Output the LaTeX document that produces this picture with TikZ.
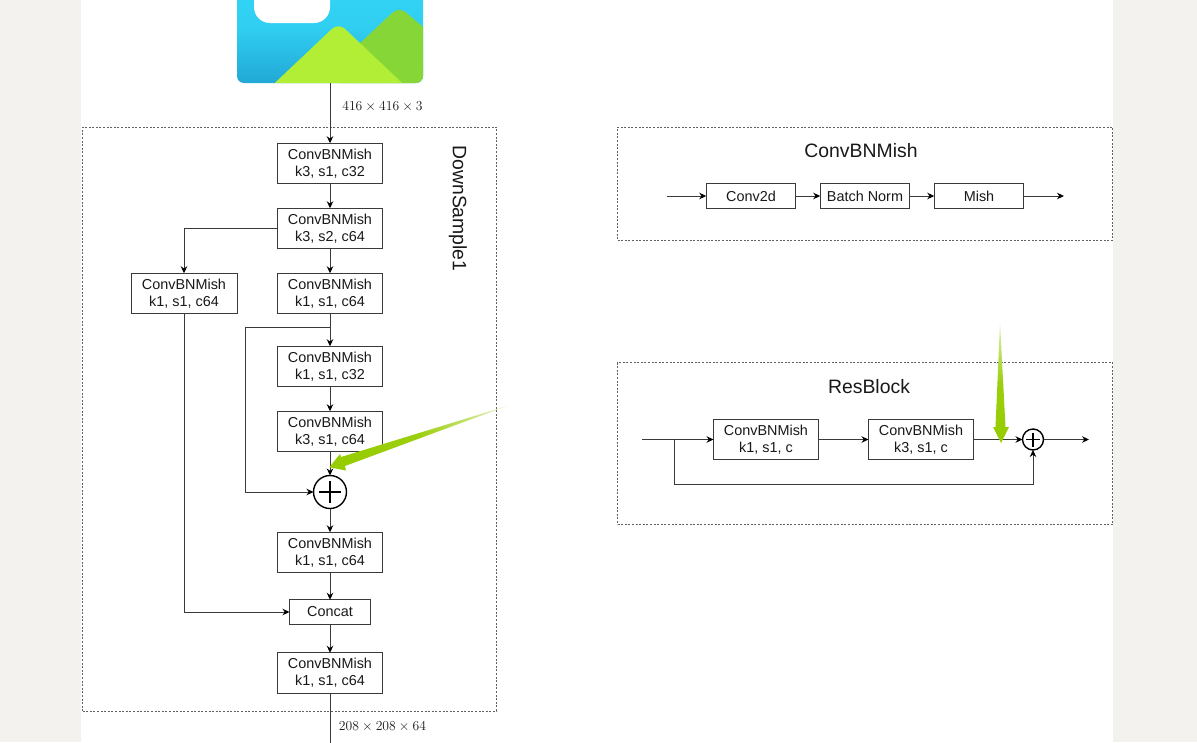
\documentclass[tikz,border=0pt]{standalone}
\usepackage{fontspec}
\setmainfont{Liberation Sans}
\usetikzlibrary{arrows.meta,calc}
\definecolor{pagebg}{HTML}{F3F2EE}
\definecolor{ln}{HTML}{3A3A3A}
\definecolor{arrowgreen}{HTML}{96CC00}
\definecolor{skytop}{HTML}{33D6F7}
\definecolor{skybot}{HTML}{22A8D6}
\definecolor{hilllight}{HTML}{B3EE36}
\definecolor{hilldark}{HTML}{87D637}
\tikzset{
  box/.style={draw=ln,fill=white,line width=.9pt,inner sep=0pt,outer sep=0pt,align=center,
    font=\fontsize{14.4}{17}\selectfont,text=black!90},
  cbm/.style={box,minimum width=105pt,minimum height=40.5pt},
  small/.style={box,minimum width=89.5pt,minimum height=24.5pt},
  frame/.style={draw=ln!80,dash pattern=on 2pt off 1.6pt,line width=.8pt,inner sep=0pt,outer sep=0pt},
  addc/.style={circle,draw=black,fill=white,line width=1.4pt,inner sep=0pt,outer sep=0pt},
  conn/.style={draw=ln,line width=.9pt,-{Stealth[length=7pt,width=6.5pt,color=black]}},
  plain/.style={draw=ln,line width=.9pt},
  title/.style={font=\fontsize{19.4}{24}\selectfont,text=black!90,inner sep=0pt},
  dim/.style={font=\fontsize{14.4}{15}\selectfont,text=black!90,inner sep=0pt,scale=.95},
}
\begin{document}
\begin{tikzpicture}[x=1pt,y=-1pt]
\useasboundingbox (0,0) rectangle (1197,742);
\begin{scope}
\clip (0,0) rectangle (1197,742);
\fill[pagebg] (0,0) rectangle (1197,742);
\fill[white] (80.5,0) rectangle (1113,742);
% frames
\node[frame,minimum width=414pt,minimum height=584pt] (fdown) at (289.5,419) {};
\node[frame,minimum width=495pt,minimum height=113pt] (fcbm) at (865,183.5) {};
\node[frame,minimum width=495pt,minimum height=162pt] (fres) at (865,443.5) {};
% picture
\node[minimum width=186pt,minimum height=113pt,inner sep=0pt,outer sep=0pt,rounded corners=7pt,
  top color=skytop,bottom color=skybot,middle color=skytop!85!skybot] (img) at (330,26.5) {};
\begin{scope}
\clip[rounded corners=7pt] (237,-30) rectangle (423,83);
\fill[white,rounded corners=16pt] (254,-40) rectangle (330,23);
\fill[hilldark,rounded corners=9pt] (340,62) -- (399,6.5) -- (450,50) -- (450,110) -- (340,110) -- cycle;
\fill[hilllight,rounded corners=9pt] (256.8,100) -- (338.5,22.7) -- (420,100) -- cycle;
\end{scope}
\coordinate (out) at (330,760);
% left column
\node[cbm] (c1) at (330,163.5) {ConvBNMish\\k3, s1, c32};
\node[cbm] (c2) at (330,228.5) {ConvBNMish\\k3, s2, c64};
\node[cbm,minimum width=106pt] (side) at (184,293.5) {ConvBNMish\\k1, s1, c64};
\node[cbm] (c3) at (330,293.5) {ConvBNMish\\k1, s1, c64};
\node[cbm] (c4) at (330,366.5) {ConvBNMish\\k1, s1, c32};
\node[cbm] (c5) at (330,431.5) {ConvBNMish\\k3, s1, c64};
\node[addc,minimum size=33pt] (add) at (330,492) {};
\draw[black,line width=1.2pt] ($(add)+(-11,0)$) -- ($(add)+(11,0)$) ($(add)+(0,-11)$) -- ($(add)+(0,11)$);
\node[cbm] (c6) at (330,552.5) {ConvBNMish\\k1, s1, c64};
\node[box,minimum width=81pt,minimum height=24.5pt] (cat) at (330,612) {Concat};
\node[cbm] (c7) at (330,673) {ConvBNMish\\k1, s1, c64};
\node[title,rotate=-90] (lbl) at (458,208.5) {DownSample1};
\node[dim] (d1) at (382.5,107) {$416\times416\times3$};
\node[dim] (d2) at (382.5,727) {$208\times208\times64$};
\draw[conn] (img.south) -- (c1.north);
\draw[conn] (c1) -- (c2);
\draw[conn] (c2) -- (c3);
\draw[conn] (c2.west) -| (side.north);
\draw[conn] (c3) -- (c4);
\draw[conn] (c4) -- (c5);
\draw[conn] (c5) -- (add);
\draw[conn] (add) -- (c6);
\draw[conn] (c6) -- (cat);
\draw[conn] (cat) -- (c7);
\draw[plain] (c7.south) -- (out);
\coordinate (br) at (330,327);
\coordinate (brl) at (245,327);
\draw[conn] (br) -- (brl) |- (add.west);
\draw[conn] (side.south) |- (cat.west);
% ConvBNMish
\node[title] (t1) at (861,151) {ConvBNMish};
\coordinate (i1) at (667,196);
\coordinate (o1) at (1064,196);
\node[small] (a) at (751,196) {Conv2d};
\node[small] (b) at (865,196) {Batch Norm};
\node[small] (m) at (979,196) {Mish};
\draw[conn] (i1) -- (a);
\draw[conn] (a) -- (b);
\draw[conn] (b) -- (m);
\draw[conn] (m) -- (o1);
% ResBlock
\node[title] (t2) at (869,387) {ResBlock};
\coordinate (i2) at (642,439.5);
\coordinate (o2) at (1089,439.5);
\coordinate (t) at (674,439.5);
\node[cbm] (r1) at (766,439.5) {ConvBNMish\\k1, s1, c};
\node[cbm] (r2) at (921,439.5) {ConvBNMish\\k3, s1, c};
\node[addc,minimum size=21pt] (add2) at (1033,439.5) {};
\draw[black,line width=1.1pt] ($(add2)+(-7,0)$) -- ($(add2)+(7,0)$) ($(add2)+(0,-7)$) -- ($(add2)+(0,7)$);
\draw[conn] (i2) -- (r1);
\draw[conn] (r1) -- (r2);
\draw[conn] (r2) -- (add2);
\draw[conn] (add2) -- (o2);
\draw[conn] (t) |- (1033,484) -- (add2.south);
% green callout arrows
\shade[top color=arrowgreen!30,bottom color=arrowgreen,middle color=arrowgreen!95]
  (1000,323) -- (1005.5,427) -- (1009,427) -- (1001,443) -- (993,427) -- (995.5,427) -- cycle;
\shade[left color=arrowgreen,right color=arrowgreen!25,middle color=arrowgreen!95]
  (507,406) -- (345,466) -- (346,470.5) -- (329.3,467.3) -- (340,454) -- (341,457) -- cycle;
\end{scope}
\end{tikzpicture}
\end{document}
